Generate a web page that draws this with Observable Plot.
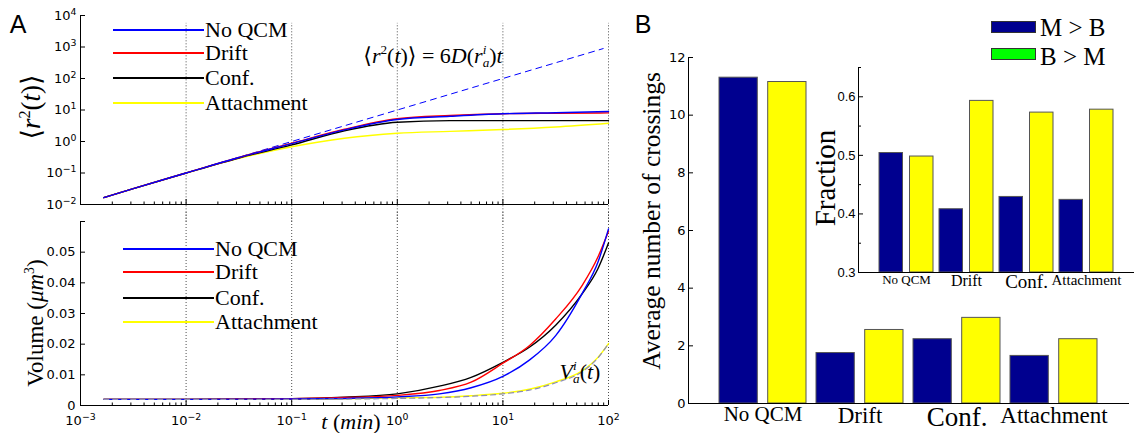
<!DOCTYPE html>
<html><head><meta charset="utf-8">
<script src="https://cdn.jsdelivr.net/npm/d3@7"></script>
<script src="https://cdn.jsdelivr.net/npm/@observablehq/plot@0.6"></script>
<style>
body{margin:0;background:#fff;}
#fig{position:relative;width:1140px;height:433px;overflow:hidden;background:#fff;}
.lab{position:absolute;white-space:nowrap;font-family:"Liberation Serif","DejaVu Serif",serif;color:#000;line-height:1;}
.c{transform:translate(-50%,-50%);}
.r{transform:translate(-50%,-50%) rotate(-90deg);}
.l{transform:translate(0,-50%);}
.sans{font-family:"Liberation Sans",Arial,sans-serif;}
.ss{display:inline-block;vertical-align:-0.32em;font-size:0.6em;line-height:1.0;text-align:left;}
.ss span{display:block;}
.sw{position:absolute;}
</style></head><body><div id="fig"></div>
<script>
// ---------- data ----------
const seriesNames = ["No QCM", "Drift", "Conf.", "Attachment"];
const seriesColors = ["#0000ff", "#ff0000", "#000000", "#ffff00"];

// MSD <r^2(t)> (top-left panel)
const msdT      = [0.00166, 0.00316, 0.01, 0.0316, 0.1, 0.316, 1, 3.16, 10, 31.6, 100];
const msdNoQCM  = [0.0166, 0.032, 0.1, 0.31, 0.86, 2.35, 5.0, 6.3, 7.6, 8.2, 9.0];
const msdDrift  = [0.0166, 0.032, 0.1, 0.31, 0.88, 2.45, 5.3, 6.7, 7.6, 7.9, 8.1];
const msdConf   = [0.0166, 0.032, 0.1, 0.30, 0.78, 2.2, 4.1, 4.6, 4.6, 4.6, 4.6];
const msdAttach = [0.0166, 0.032, 0.1, 0.29, 0.68, 1.27, 1.83, 2.1, 2.4, 2.9, 3.8];
const theoryT   = [0.00166, 89];
const theoryR2  = [0.0166, 890];

// Volume (bottom-left panel)
const volT      = [0.00166, 0.01, 0.1, 0.316, 1, 2.5, 5, 10, 17.8, 31.6, 56.2, 79.4, 100];
const volNoQCM  = [0.002, 0.002, 0.0021, 0.0023, 0.0028, 0.0038, 0.0058, 0.0095, 0.0148, 0.0228, 0.0365, 0.0467, 0.0576];
const volDrift  = [0.002, 0.002, 0.0022, 0.0026, 0.0033, 0.0049, 0.0076, 0.0138, 0.0195, 0.0282, 0.0391, 0.0484, 0.0568];
const volConf   = [0.002, 0.002, 0.0022, 0.0027, 0.0038, 0.0063, 0.0092, 0.0141, 0.019, 0.0262, 0.0364, 0.0446, 0.053];
const volAttach = [0.002, 0.002, 0.002, 0.0022, 0.0025, 0.0027, 0.0032, 0.004, 0.0053, 0.0077, 0.0113, 0.0157, 0.0202];
const volVa     = [0.002, 0.002, 0.002, 0.0021, 0.0023, 0.0026, 0.003, 0.0038, 0.005, 0.0074, 0.011, 0.0155, 0.0202];

// Crossings (panel B) and fractions (inset)
const categories = ["No QCM", "Drift", "Conf.", "Attachment"];
const crossMB = [11.3, 1.75, 2.23, 1.65];
const crossBM = [11.15, 2.55, 2.97, 2.23];
const fracMB  = [0.504, 0.408, 0.429, 0.424];
const fracBM  = [0.498, 0.593, 0.573, 0.578];

// ticks
const logXTicks  = [1e-3, 1e-2, 1e-1, 1, 10, 100];
const logXExp    = ["−3", "−2", "−1", "0", "1", "2"];
const logXMinor  = [2e-3,3e-3,4e-3,5e-3,6e-3,7e-3,8e-3,9e-3,2e-2,3e-2,4e-2,5e-2,6e-2,7e-2,8e-2,9e-2,
                    0.2,0.3,0.4,0.5,0.6,0.7,0.8,0.9,2,3,4,5,6,7,8,9,20,30,40,50,60,70,80,90];
const gridT      = [1e-2, 1e-1, 1, 10, 100];
const msdYTicks  = [1e-2, 1e-1, 1, 10, 100, 1000, 10000];
const msdYExp    = ["−2", "−1", "0", "1", "2", "3", "4"];
const volYTicks  = [0, 0.01, 0.02, 0.03, 0.04, 0.05];
const volYLabels = ["0", "0.01", "0.02", "0.03", "0.04", "0.05"];
const crossYTicks = [0, 2, 4, 6, 8, 10, 12];
const fracYTicks  = [0.3, 0.4, 0.5, 0.6];
const fracYLabels = ["0.3", "0.4", "0.5", "0.6"];
const fracYMinor  = [0.35, 0.45, 0.55, 0.65];
const catFontB     = [21, 23, 27, 23];
const catFontInset = [13, 16, 19, 15];

const navy = "#00008f", yellow = "#ffff00";

(function () {
const fig = document.getElementById("fig");
function place(el, left, topPx) {
  const d = document.createElement("div");
  d.style.cssText = `position:absolute;left:${left}px;top:${topPx}px;`;
  d.appendChild(el); fig.appendChild(d);
}
function label(html, x, y, cls, size, extra = "") {
  const d = document.createElement("div");
  d.className = "lab " + cls;
  d.style.cssText = `left:${x}px;top:${y}px;font-size:${size}px;${extra}`;
  d.innerHTML = html; fig.appendChild(d);
}
function swatchLine(x1, x2, y, color) {
  const d = document.createElement("div");
  d.className = "sw";
  d.style.cssText = `left:${x1}px;top:${y - 1}px;width:${x2 - x1}px;height:2px;background:${color};`;
  fig.appendChild(d);
}
function rows(tArr, arrays) {
  const out = [];
  arrays.forEach((arr, k) => arr.forEach((v, i) => out.push({t: tArr[i], v, s: seriesNames[k]})));
  return out;
}
function superscripts(svg) {
  svg.querySelectorAll("text").forEach(t => {
    const s = t.textContent;
    if (!s.includes("^")) return;
    const [base, exp] = s.split("^");
    t.textContent = base;
    const ts = document.createElementNS("http://www.w3.org/2000/svg", "tspan");
    ts.setAttribute("dy", "-0.5em");
    ts.setAttribute("font-size", "0.72em");
    ts.textContent = exp;
    t.appendChild(ts);
  });
}
const msdMap = new Map(msdYTicks.map((d, i) => [d, "10^" + msdYExp[i]]));
const xMap = new Map(logXTicks.map((d, i) => [d, "10^" + logXExp[i]]));
const volMap = new Map(volYTicks.map((d, i) => [d, volYLabels[i]]));
const fracMap = new Map(fracYTicks.map((d, i) => [d, fracYLabels[i]]));
const baseStyle = {background: "transparent", overflow: "visible", fontFamily: "DejaVu Sans", fontSize: "13px", color: "#000"};
const colorScale = {domain: seriesNames, range: seriesColors};
const gridStyle = {stroke: "#222", strokeWidth: 0.8, strokeDasharray: "1,2"};

const msdRows = rows(msdT, [msdNoQCM, msdDrift, msdConf, msdAttach]).reverse();
const volRows = rows(volT, [volNoQCM, volDrift, volConf, volAttach]).reverse();

// ---------- top-left panel ----------
const topPlot = Plot.plot({
  width: 620, height: 221,
  marginLeft: 80, marginRight: 12, marginTop: 15, marginBottom: 17,
  style: baseStyle,
  x: {type: "log", domain: [1e-3, 1e2], axis: null, label: null},
  y: {type: "log", domain: [1e-2, 1e4], axis: null, label: null},
  color: colorScale,
  marks: [
    Plot.ruleX(gridT, {x: d => d, y1: 10 ** -2.55, y2: 10 ** 3.75, ...gridStyle}),
    Plot.line(theoryT.map((t, i) => ({t, v: theoryR2[i]})), {x: "t", y: "v", stroke: "#0000ff", strokeWidth: 1, strokeDasharray: "6,5"}),
    Plot.line(msdRows, {x: "t", y: "v", z: "s", stroke: "s", strokeWidth: 1.4, curve: "monotone-x"}),
    Plot.ruleX([1e-3], {stroke: "#000", strokeWidth: 1}),
    Plot.ruleY([1e-2], {stroke: "#000", strokeWidth: 1}),
    Plot.axisY(msdYTicks, {label: null, tickSize: -5, tickPadding: 9, tickFormat: d => msdMap.get(d)}),
    Plot.axisX(logXTicks, {label: null, tickSize: -5, tickFormat: () => ""}),
    Plot.axisX(logXMinor, {label: null, tickSize: -2.5, tickFormat: () => ""})
  ]
});
superscripts(topPlot);
place(topPlot, 0, 0);

// ---------- bottom-left panel ----------
const bottomPlot = Plot.plot({
  width: 620, height: 222,
  marginLeft: 80, marginRight: 12, marginTop: 10, marginBottom: 28,
  style: baseStyle,
  x: {type: "log", domain: [1e-3, 1e2], axis: null, label: null},
  y: {domain: [0, 0.06], axis: null, label: null},
  color: colorScale,
  marks: [
    Plot.ruleX(gridT, {x: d => d, y1: 0, y2: 0.0635, ...gridStyle}),
    Plot.line(volRows, {x: "t", y: "v", z: "s", stroke: "s", strokeWidth: 1.4, curve: "monotone-x"}),
    Plot.line(volT.map((t, i) => ({t, v: volVa[i]})), {x: "t", y: "v", stroke: "#8c8cb4", strokeWidth: 1.2, strokeDasharray: "5,4", curve: "monotone-x"}),
    Plot.ruleX([1e-3], {stroke: "#000", strokeWidth: 1}),
    Plot.ruleY([0], {stroke: "#000", strokeWidth: 1}),
    Plot.axisY(volYTicks, {label: null, tickSize: -5, tickPadding: 10, tickFormat: d => volMap.get(d)}),
    Plot.axisY([0.06], {label: null, tickSize: -5, tickFormat: () => ""}),
    Plot.axisX(logXTicks, {label: null, tickSize: -5, tickPadding: 15, tickFormat: d => xMap.get(d)}),
    Plot.axisX(logXMinor, {label: null, tickSize: -2.5, tickFormat: () => ""})
  ]
});
superscripts(bottomPlot);
place(bottomPlot, 0, 211);

// ---------- panel B: crossings ----------
const crossRows = categories.map((c, i) => ({c, mb: crossMB[i], bm: crossBM[i]}));
const barB = Plot.plot({
  width: 520, height: 433,
  marginLeft: 68, marginRight: 12, marginTop: 57, marginBottom: 30,
  style: baseStyle,
  x: {domain: categories, paddingInner: 0, paddingOuter: 0.25, axis: null, label: null},
  y: {domain: [0, 12], axis: null, label: null},
  marks: [
    Plot.barY(crossRows, {x: "c", y: "mb", fill: navy, stroke: "#555", strokeWidth: 1, insetLeft: 5, insetRight: 53.7}),
    Plot.barY(crossRows, {x: "c", y: "bm", fill: yellow, stroke: "#555", strokeWidth: 1, insetLeft: 53.7, insetRight: 5}),
    Plot.frame({anchor: "left", stroke: "#000"}),
    Plot.frame({anchor: "bottom", stroke: "#000"}),
    Plot.axisY(crossYTicks, {label: null, tickSize: -5, tickPadding: 8}),
    Plot.axisX(categories, {label: null, tickSize: 0, tickPadding: 3, fontFamily: "Liberation Serif",
      fontSize: d => catFontB[categories.indexOf(d)]})
  ]
});
place(barB, 620, 0);

// ---------- inset: fraction ----------
const fracRows = categories.map((c, i) => ({c, mb: fracMB[i], bm: fracBM[i]}));
const insetPlot = Plot.plot({
  width: 360, height: 260,
  marginLeft: 78, marginRight: 7, marginTop: 27, marginBottom: 28,
  style: {...baseStyle, fontFamily: "Liberation Sans", fontSize: "13px"},
  x: {domain: categories, paddingInner: 0, paddingOuter: 0.26, axis: null, label: null},
  y: {domain: [0.3, 0.65], axis: null, label: null},
  marks: [
    Plot.barY(fracRows, {x: "c", y1: 0.3, y2: "mb", fill: navy, stroke: "#555", strokeWidth: 1, insetLeft: 3, insetRight: 33.5}),
    Plot.barY(fracRows, {x: "c", y1: 0.3, y2: "bm", fill: yellow, stroke: "#555", strokeWidth: 1, insetLeft: 33.5, insetRight: 3}),
    Plot.frame({anchor: "left", stroke: "#000"}),
    Plot.frame({anchor: "bottom", stroke: "#000"}),
    Plot.axisY(fracYTicks, {label: null, tickSize: -5, tickPadding: 8, tickFormat: d => fracMap.get(d)}),
    Plot.axisY(fracYMinor, {label: null, tickSize: -3, tickFormat: () => ""}),
    Plot.axisX(categories, {label: null, tickSize: 0, tickPadding: 2, fontFamily: "Liberation Serif",
      fontSize: d => catFontInset[categories.indexOf(d)]})
  ]
});
place(insetPlot, 780, 40);

// ---------- annotations & legends ----------
label("A", 18, 24, "c sans", 25);
label("B", 643, 24, "c sans", 25);

label("⟨<i>r</i><sup style='font-size:0.6em'>2</sup>(<i>t</i>)⟩", 31, 107, "r", 27);
label("⟨<i>r</i><sup style='font-size:0.6em'>2</sup>(<i>t</i>)⟩ = 6<i>D</i>(<i>r</i><span class='ss'><span><i>i</i></span><span><i>a</i></span></span>)<i>t</i>", 433, 56, "c", 22);

const legTopY = [30, 53, 78, 103];
seriesNames.forEach((n, i) => { swatchLine(113, 204, legTopY[i], seriesColors[i]); label(n, 205, legTopY[i], "l", 22); });
const legBotY = [249, 272, 298, 322];
seriesNames.forEach((n, i) => { swatchLine(123, 214, legBotY[i], seriesColors[i]); label(n, 215, legBotY[i], "l", 22); });

label("Volume (<i>μm</i><sup style='font-size:0.6em'>3</sup>)", 35, 323, "r", 23);
label("<i>t</i> (<i>min</i>)", 351, 422, "c", 22);
label("<i>V</i><span class='ss'><span><i>i</i></span><span><i>a</i></span></span>(<i>t</i>)", 580, 372, "c", 22);

label("Average number of crossings", 652, 221, "r", 25.5);
label("Fraction", 825, 178, "r", 29);

const lb1 = document.createElement("div"); lb1.className = "sw";
lb1.style.cssText = "left:991px;top:21px;width:43px;height:10px;background:" + navy + ";border:1px solid #333;";
fig.appendChild(lb1);
const lb2 = document.createElement("div"); lb2.className = "sw";
lb2.style.cssText = "left:991px;top:48px;width:43px;height:10px;background:#00ff00;border:1px solid #333;";
fig.appendChild(lb2);
label("M &gt; B", 1040, 27, "l", 25);
label("B &gt; M", 1040, 56, "l", 25);
})();
</script></body></html>
